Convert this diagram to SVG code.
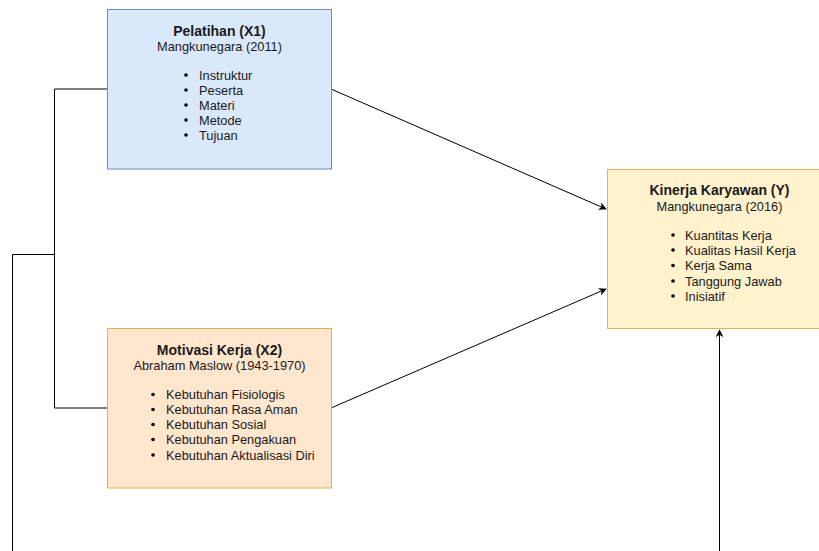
<svg xmlns="http://www.w3.org/2000/svg" width="819" height="551" viewBox="0 0 819 551">
<defs>
<marker id="arr" viewBox="0 0 10 10" refX="9" refY="5" markerWidth="8" markerHeight="8" orient="auto" markerUnits="userSpaceOnUse">
<path d="M0,0 L10,5 L0,10 L3,5 Z" fill="#000"/>
</marker>
<style>
text{font-family:"Liberation Sans",Arial,sans-serif;font-size:12.8px;fill:#1a1a1a}
.t{font-weight:bold;font-size:14px;text-anchor:middle}
.s{text-anchor:middle}
.c{fill:none;stroke:#000;stroke-width:1}
</style>
</defs>
<rect width="819" height="551" fill="#fff"/>
<g id="connectors">
<polyline class="c" points="107.5,89 54.5,89 54.5,408 107.5,408"/>
<polyline class="c" points="54.5,254.5 12.5,254.5 12.5,551"/>
<line class="c" x1="331" y1="89" x2="606" y2="209" marker-end="url(#arr)"/>
<line class="c" x1="331" y1="408" x2="606" y2="289" marker-end="url(#arr)"/>
<line class="c" x1="719.5" y1="551" x2="719.5" y2="330" marker-end="url(#arr)"/>
</g>
<g id="x1">
<rect x="107.5" y="9.5" width="224" height="159.5" fill="#dae8fc" stroke="#6c8ebf"/>
<text class="t" x="219.5" y="35.5">Pelatihan (X1)</text>
<text class="s" x="219.5" y="50.5">Mangkunegara (2011)</text>
<g>
<circle cx="186" cy="75" r="1.8"/><text x="199" y="79.5">Instruktur</text>
<circle cx="186" cy="90" r="1.8"/><text x="199" y="94.5">Peserta</text>
<circle cx="186" cy="105" r="1.8"/><text x="199" y="109.5">Materi</text>
<circle cx="186" cy="120" r="1.8"/><text x="199" y="124.5">Metode</text>
<circle cx="186" cy="135" r="1.8"/><text x="199" y="139.5">Tujuan</text>
</g>
</g>
<g id="x2">
<rect x="107.5" y="328.5" width="224" height="159.5" fill="#ffe6cc" stroke="#d6b656"/>
<text class="t" x="219.5" y="354.5">Motivasi Kerja (X2)</text>
<text class="s" x="219.5" y="369.5">Abraham Maslow (1943-1970)</text>
<g>
<circle cx="153" cy="394.5" r="1.8"/><text x="166" y="399">Kebutuhan Fisiologis</text>
<circle cx="153" cy="409.5" r="1.8"/><text x="166" y="414">Kebutuhan Rasa Aman</text>
<circle cx="153" cy="424.5" r="1.8"/><text x="166" y="429">Kebutuhan Sosial</text>
<circle cx="153" cy="439.5" r="1.8"/><text x="166" y="444">Kebutuhan Pengakuan</text>
<circle cx="153" cy="455" r="1.8"/><text x="166" y="459.5">Kebutuhan Aktualisasi Diri</text>
</g>
</g>
<g id="y">
<rect x="607.5" y="169.5" width="224" height="159" fill="#fff2cc" stroke="#d6b656"/>
<text class="t" x="719.5" y="194.5">Kinerja Karyawan (Y)</text>
<text class="s" x="719.5" y="210.5">Mangkunegara (2016)</text>
<g>
<circle cx="673" cy="235" r="1.8"/><text x="685" y="239.5">Kuantitas Kerja</text>
<circle cx="673" cy="250" r="1.8"/><text x="685" y="254.5">Kualitas Hasil Kerja</text>
<circle cx="673" cy="265.5" r="1.8"/><text x="685" y="270">Kerja Sama</text>
<circle cx="673" cy="281" r="1.8"/><text x="685" y="285.5">Tanggung Jawab</text>
<circle cx="673" cy="296" r="1.8"/><text x="685" y="300.5">Inisiatif</text>
</g>
</g>
</svg>
